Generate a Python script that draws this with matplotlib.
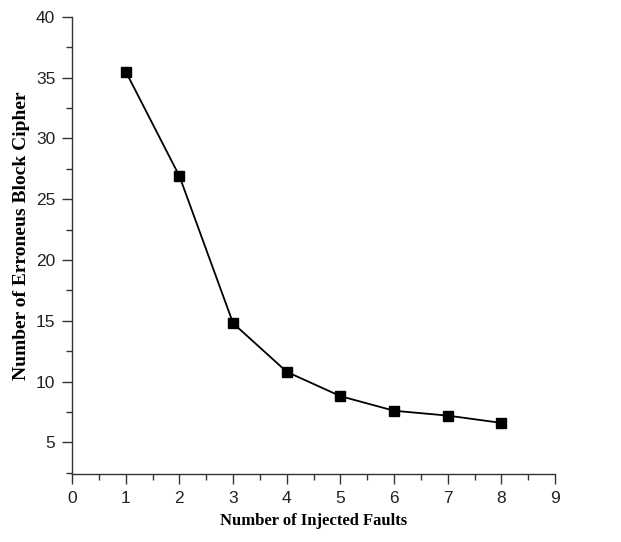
import matplotlib.pyplot as plt
from matplotlib.ticker import MultipleLocator

faults = [1, 2, 3, 4, 5, 6, 7, 8]
erroneous = [35.5, 26.9, 14.8, 10.8, 8.8, 7.6, 7.2, 6.6]


def main():
    fig = plt.figure(figsize=(6.21, 5.42), dpi=100)
    ax = fig.add_axes([0.116, 0.1255, 0.778, 0.8435])

    ax.plot(faults, erroneous, color='black', linewidth=1.3,
            marker='s', markersize=6.5, markerfacecolor='black',
            markeredgecolor='black')

    ax.set_xlim(0, 9)
    ax.set_ylim(2.4, 40)
    ax.xaxis.set_major_locator(MultipleLocator(1))
    ax.xaxis.set_minor_locator(MultipleLocator(0.5))
    ax.yaxis.set_major_locator(MultipleLocator(5))
    ax.yaxis.set_minor_locator(MultipleLocator(2.5))
    ax.set_yticks([5, 10, 15, 20, 25, 30, 35, 40])

    ax.spines['top'].set_visible(False)
    ax.spines['right'].set_visible(False)
    for side in ('left', 'bottom'):
        ax.spines[side].set_linewidth(1.0)
        ax.spines[side].set_color('#333333')

    ax.tick_params(which='major', direction='out', length=7, width=1.0,
                   color='#333333', labelsize=12.5, pad=5)
    ax.tick_params(which='minor', direction='out', length=4, width=1.0,
                   color='#333333')
    for lbl in ax.get_xticklabels() + ax.get_yticklabels():
        lbl.set_fontfamily('Liberation Sans')
        lbl.set_color('#222222')

    ax.set_xlabel('Number of Injected Faults', fontsize=12, fontweight='bold',
                  family='Liberation Serif')
    ax.set_ylabel('Number of Erroneus Block Cipher', fontsize=14,
                  fontweight='bold', family='Liberation Serif')
    ax.xaxis.set_label_coords(0.5, -0.085)
    ax.yaxis.set_label_coords(-0.087, 0.521)

    fig.savefig('out.png', dpi=100)
    plt.close(fig)


if __name__ == '__main__':
    main()
